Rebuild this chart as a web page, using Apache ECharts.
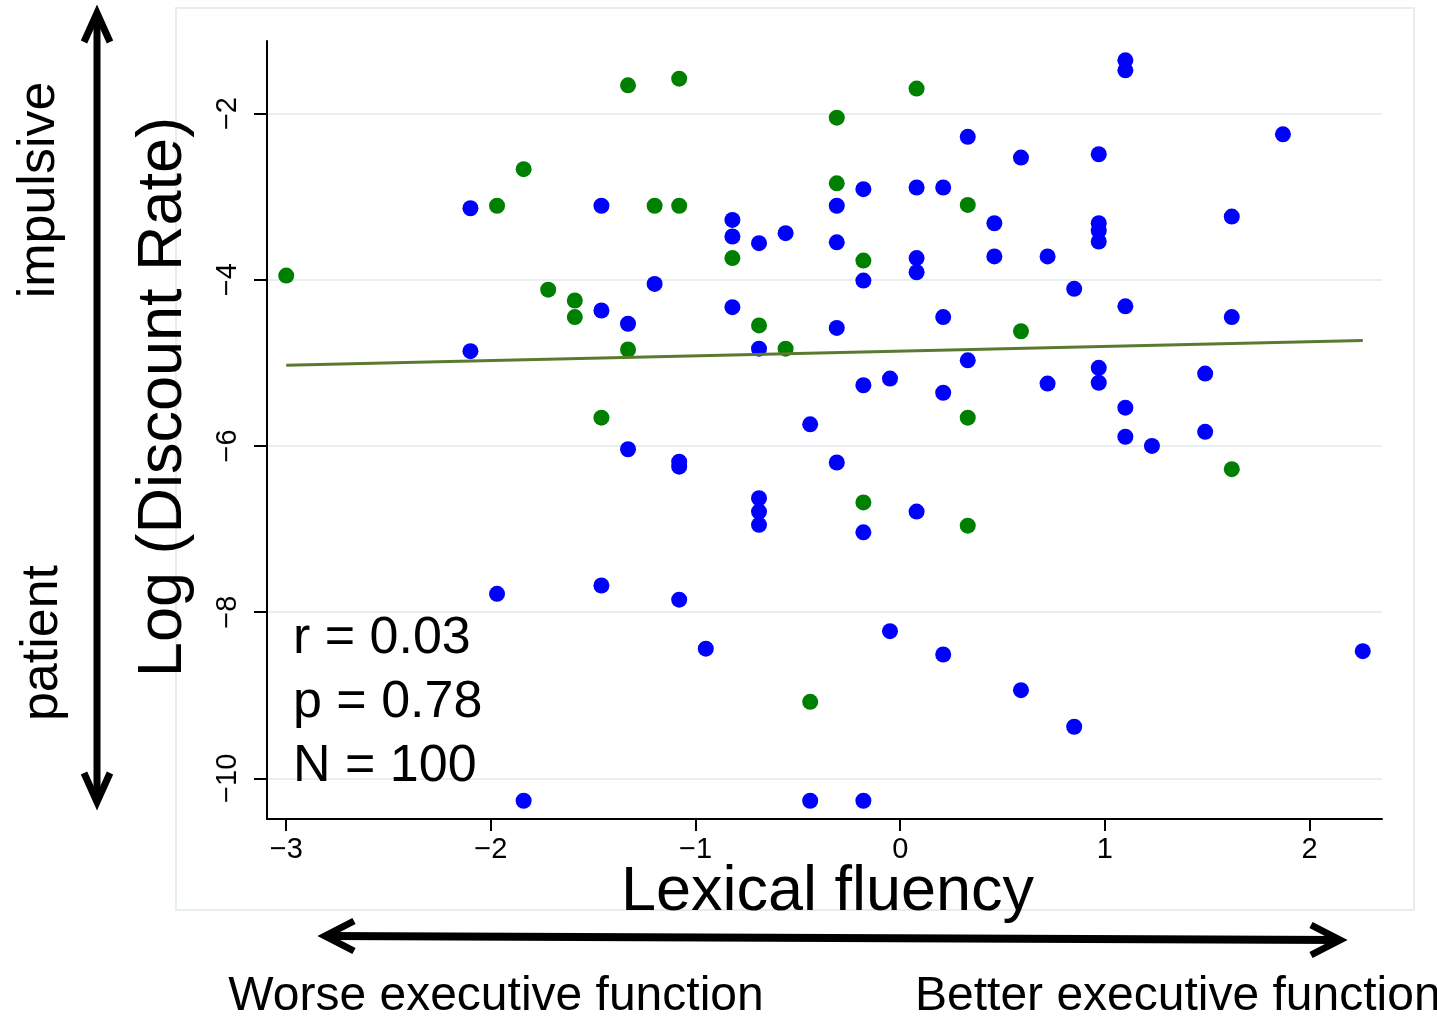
<!DOCTYPE html>
<html><head><meta charset="utf-8">
<script src="https://cdn.jsdelivr.net/npm/echarts@6/dist/echarts.min.js"></script>
<style>html,body{margin:0;padding:0;background:#fff}#c{width:1437px;height:1017px}</style>
</head><body><div id="c"></div>
<script>
// ---- data ----
const xTicks = [-3, -2, -1, 0, 1, 2];
const yTicks = [-10, -8, -6, -4, -2];
const greenX = [-3.00,-1.97,-1.84,-1.72,-1.59,-1.59,-1.46,-1.33,-1.33,-1.20,-1.08,-1.08,-0.82,-0.69,-0.56,-0.44,-0.31,-0.31,-0.18,-0.18,0.08,0.33,0.33,0.33,0.59,1.62];
const greenY = [-3.95,-3.11,-2.67,-4.12,-4.25,-4.45,-5.66,-1.66,-4.84,-3.11,-1.58,-3.11,-3.74,-4.55,-4.83,-9.08,-2.05,-2.84,-3.77,-6.68,-1.70,-3.10,-5.66,-6.96,-4.62,-6.28];
const blueX = [-2.10,-2.10,-1.97,-1.84,-1.46,-1.46,-1.46,-1.33,-1.33,-1.20,-1.08,-1.08,-1.08,-0.95,-0.82,-0.82,-0.82,-0.69,-0.69,-0.69,-0.69,-0.69,-0.56,-0.44,-0.44,-0.31,-0.31,-0.31,-0.31,-0.18,-0.18,-0.18,-0.18,-0.18,-0.05,-0.05,0.08,0.08,0.08,0.08,0.21,0.21,0.21,0.21,0.33,0.33,0.46,0.46,0.59,0.59,0.72,0.72,0.85,0.85,0.97,0.97,0.97,0.97,0.97,0.97,1.10,1.10,1.10,1.10,1.10,1.23,1.49,1.49,1.62,1.62,1.87,2.26];
const blueY = [-3.14,-4.86,-7.78,-10.27,-3.11,-4.37,-7.68,-4.53,-6.04,-4.05,-6.19,-6.25,-7.85,-8.44,-3.28,-3.48,-4.33,-3.56,-4.83,-6.63,-6.79,-6.95,-3.44,-5.74,-10.27,-3.11,-3.55,-4.58,-6.20,-2.91,-4.01,-5.27,-7.04,-10.27,-5.19,-8.23,-2.89,-3.74,-3.91,-6.79,-2.89,-4.45,-5.36,-8.51,-2.28,-4.97,-3.32,-3.72,-2.53,-8.94,-3.72,-5.25,-4.11,-9.38,-2.49,-3.32,-3.41,-3.54,-5.06,-5.24,-1.36,-1.48,-4.32,-5.54,-5.89,-6.00,-5.13,-5.83,-3.24,-4.45,-2.25,-8.47];
const fitX = [-3.00, 2.26];
const fitY = [-5.03, -4.73];
const statLines = ['r = 0.03', 'p = 0.78', 'N = 100'];
const xTitle = 'Lexical fluency';
const yTitle = 'Log (Discount Rate)';
const upLabel = 'impulsive';
const downLabel = 'patient';
const leftLabel = 'Worse executive function';
const rightLabel = 'Better executive function';

// ---- chart ----
const FONT = '"Liberation Sans", Arial, Helvetica, sans-serif';
const zip = (a, b) => a.map((v, i) => [v, b[i]]);
const minusFmt = v => String(v).replace('-', '\u2212');
const chart = echarts.init(document.getElementById('c'), null, {renderer: 'canvas'});

const blk = {stroke: '#000', lineWidth: 7, fill: 'none'};
chart.setOption({
  animation: false,
  backgroundColor: '#fff',
  grid: {left: 267, right: 55, top: 41, bottom: 198, containLabel: false},
  xAxis: {
    type: 'value', min: -3.094, max: 2.354,
    name: xTitle, nameLocation: 'middle', nameGap: 42, nameMoveOverlap: false,
    nameTextStyle: {fontFamily: FONT, fontSize: 63, color: '#000', padding: [0, 0, 0, 6]},
    axisLine: {show: true, onZero: false, lineStyle: {color: '#000', width: 2}},
    axisTick: {show: true, length: 12, customValues: xTicks, lineStyle: {color: '#000', width: 2}},
    axisLabel: {customValues: xTicks, formatter: minusFmt, margin: 16, fontFamily: FONT, fontSize: 29, color: '#000'},
    splitLine: {show: false}
  },
  yAxis: {
    type: 'value', min: -10.49, max: -1.127,
    name: yTitle, nameLocation: 'middle', nameGap: 72, nameMoveOverlap: false,
    nameTextStyle: {fontFamily: FONT, fontSize: 63, color: '#000', padding: [0, 0, 0, 66]},
    axisLine: {show: true, onZero: false, lineStyle: {color: '#000', width: 2}},
    axisTick: {show: true, length: 13, customValues: yTicks, lineStyle: {color: '#000', width: 2}},
    axisLabel: {customValues: yTicks, rotate: 90, formatter: minusFmt, margin: 25, fontFamily: FONT, fontSize: 29, color: '#000'},
    splitLine: {show: true, lineStyle: {color: '#e8eff2', width: 2}}
  },
  series: [
    {type: 'scatter', name: 'green', data: zip(greenX, greenY), symbolSize: 16,
     itemStyle: {color: '#008000', opacity: 1}, z: 3},
    {type: 'scatter', name: 'blue', data: zip(blueX, blueY), symbolSize: 16,
     itemStyle: {color: '#0000ff', opacity: 1}, z: 3},
    {type: 'line', name: 'fit', data: zip(fitX, fitY), symbol: 'none',
     lineStyle: {color: '#5a7a30', width: 3}, z: 4}
  ],
  graphic: [
    {type: 'rect', shape: {x: 176, y: 8, width: 1238, height: 902}, style: {fill: 'none', stroke: '#e6edf1', lineWidth: 2}, z: -10, silent: true},
    // vertical arrow
    {type: 'line', shape: {x1: 97, y1: 14, x2: 97, y2: 801}, style: blk},
    {type: 'polyline', shape: {points: [[84, 42], [97, 13], [110, 42]]}, style: blk},
    {type: 'polyline', shape: {points: [[84, 773], [97, 802], [110, 773]]}, style: blk},
    // horizontal arrow
    {type: 'line', shape: {x1: 326, y1: 936, x2: 1339, y2: 940}, style: {stroke: '#000', lineWidth: 8}},
    {type: 'polyline', shape: {points: [[354, 921], [325, 936], [354, 951]]}, style: blk},
    {type: 'polyline', shape: {points: [[1311, 925], [1340, 940], [1311, 955]]}, style: blk},
    // side labels
    {type: 'text', x: 40, y: 190, rotation: Math.PI / 2,
     style: {text: upLabel, font: '52px ' + FONT, fill: '#000', align: 'center', verticalAlign: 'middle'}},
    {type: 'text', x: 43, y: 643, rotation: Math.PI / 2,
     style: {text: downLabel, font: '52px ' + FONT, fill: '#000', align: 'center', verticalAlign: 'middle'}},
    {type: 'text', x: 496, y: 997,
     style: {text: leftLabel, font: '48px ' + FONT, fill: '#000', align: 'center', verticalAlign: 'middle'}},
    {type: 'text', x: 915, y: 997,
     style: {text: rightLabel, font: '48px ' + FONT, fill: '#000', align: 'left', verticalAlign: 'middle'}},
    // stats
    {type: 'text', x: 293, y: 703, z: 200,
     style: {text: statLines.join('\n'), font: '52px ' + FONT, lineHeight: 64, fill: '#000', align: 'left', verticalAlign: 'middle'}}
  ]
});
</script>
</body></html>
